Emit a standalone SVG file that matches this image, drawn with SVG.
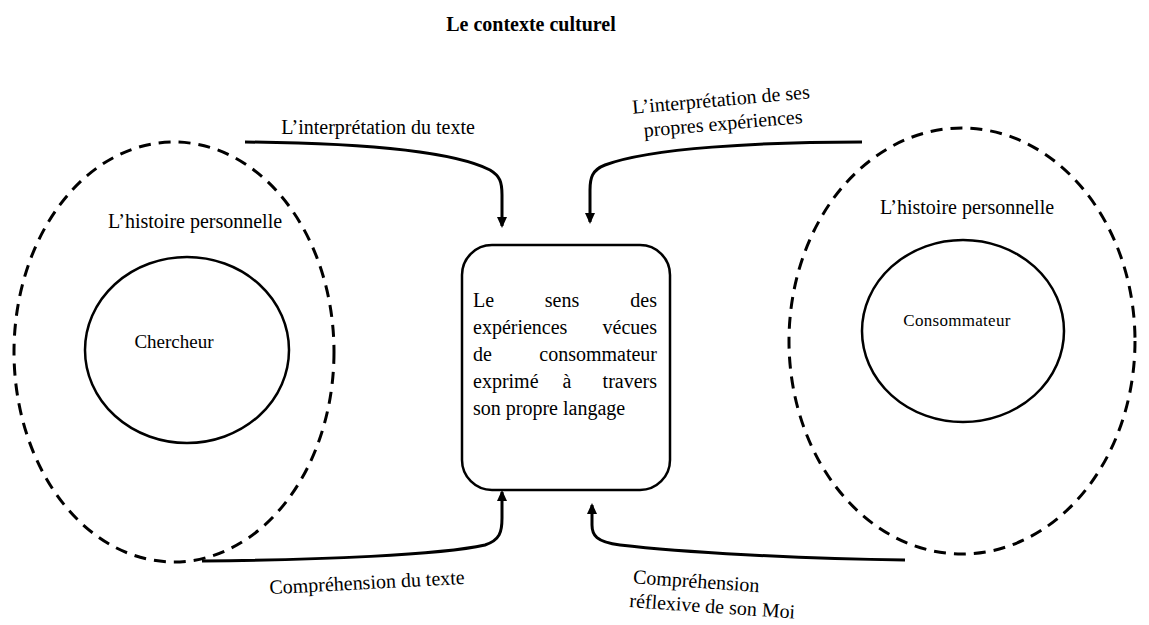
<svg xmlns="http://www.w3.org/2000/svg" width="1149" height="625" viewBox="0 0 1149 625">
<style>
text{font-family:"Liberation Serif","DejaVu Serif","Times New Roman",serif;fill:#000}
.lbl{font-size:20px}
.dash{fill:none;stroke:#000;stroke-width:3;stroke-dasharray:12 8}
.solid{fill:none;stroke:#000;stroke-width:2.5}
.conn{fill:none;stroke:#000;stroke-width:3;marker-end:url(#ah)}
</style>
<defs>
<marker id="ah" markerWidth="12" markerHeight="10" refX="9" refY="5" orient="auto" markerUnits="userSpaceOnUse">
<path d="M0,0 L11,5 L0,10 z" fill="#000"/>
</marker>
</defs>
<rect width="1149" height="625" fill="#fff"/>
<text x="531" y="31" text-anchor="middle" font-size="20" font-weight="bold">Le contexte culturel</text>
<g id="left-history">
<ellipse class="dash" cx="174" cy="352" rx="160" ry="210"/>
<text class="lbl" x="195" y="228" text-anchor="middle">L’histoire personnelle</text>
</g>
<g id="chercheur">
<ellipse class="solid" cx="187" cy="350" rx="102" ry="93"/>
<text x="174" y="348" text-anchor="middle" font-size="19">Chercheur</text>
</g>
<g id="right-history">
<ellipse class="dash" cx="962" cy="341" rx="173" ry="213"/>
<text class="lbl" x="967" y="214" text-anchor="middle">L’histoire personnelle</text>
</g>
<g id="consommateur">
<ellipse class="solid" cx="963" cy="331" rx="101" ry="91"/>
<text x="957" y="326" text-anchor="middle" font-size="17" letter-spacing="0.3">Consommateur</text>
</g>
<g id="center">
<rect class="solid" x="462" y="245" width="208" height="245" rx="30" ry="30"/>
<g font-size="20">
<text x="473" y="307">Le</text><text x="562" y="307" text-anchor="middle">sens</text><text x="657" y="307" text-anchor="end">des</text>
<text x="473" y="334">expériences</text><text x="657" y="334" text-anchor="end">vécues</text>
<text x="473" y="361">de</text><text x="657" y="361" text-anchor="end">consommateur</text>
<text x="473" y="388">exprimé</text><text x="567" y="388" text-anchor="middle">à</text><text x="657" y="388" text-anchor="end">travers</text>
<text x="473" y="415">son propre langage</text>
</g>
</g>
<g id="connectors">
<path class="conn" d="M245,142 C350,143 450,150 490,170 C500,176 502,182 502,195 L502,226"/>
<path class="conn" d="M862,142 C760,142 650,148 605,165 C592,170 590,178 590,190 L590,222"/>
<path class="conn" d="M202,561 C320,560 440,555 485,545 C500,540 502,532 502,518 L502,492"/>
<path class="conn" d="M905,560 C800,559 680,552 620,545 C596,542 592,535 592,525 L592,505"/>
</g>
<g id="labels">
<text class="lbl" x="378" y="134" text-anchor="middle">L’interprétation du texte</text>
<g transform="rotate(-5 722 112)">
<text class="lbl" x="722" y="106" text-anchor="middle">L’interprétation de ses</text>
<text class="lbl" x="722" y="130" text-anchor="middle">propres expériences</text>
</g>
<text class="lbl" x="367" y="589" text-anchor="middle" transform="rotate(-3 367 583)">Compréhension du texte</text>
<g transform="rotate(4 700 595)">
<text class="lbl" x="632" y="588">Compréhension</text>
<text class="lbl" x="630" y="612">réflexive de son Moi</text>
</g>
</g>
</svg>
